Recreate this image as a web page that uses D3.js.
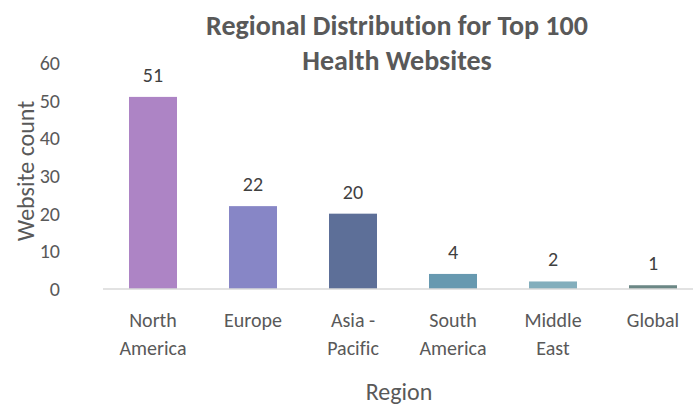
<!DOCTYPE html>
<html>
<head>
<meta charset="utf-8">
<script src="https://cdn.jsdelivr.net/npm/d3@7"></script>
<style>
    body { margin: 0; background: #fff; }
    svg text { font-family: Carlito, Lato, "Open Sans", sans-serif; font-variant-ligatures: none; }
</style>
</head>
<body>
<div id="chart"></div>
<script>
// data
var regions = [['North', 'America'], ['Europe'], ['Asia -', 'Pacific'], ['South', 'America'], ['Middle', 'East'], ['Global']],
    counts = [51, 22, 20, 4, 2, 1],
    barColors = ['#ad84c5', '#8786c6', '#5d6f98', '#6799b0', '#83aebc', '#6b8785'],
    yTicks = [0, 10, 20, 30, 40, 50, 60];

var width = 693,
    height = 406,
    plot = { left: 103, right: 703, top: 63, bottom: 289 };

var svg = d3.select('#chart').append('svg')
    .attr('width', width)
    .attr('height', height);

var x = d3.scaleBand()
    .domain(regions.map(function(d) { return d.join(' '); }))
    .range([plot.left, plot.right])
    .paddingInner(0.52)
    .paddingOuter(0.26);

var y = d3.scaleLinear()
    .domain([0, 60])
    .range([plot.bottom, plot.top]);

// title, two lines
svg.selectAll('text.title')
    .data(['Regional Distribution for Top 100', 'Health Websites'])
    .join('text')
    .attr('class', 'title')
    .attr('x', 397)
    .attr('y', function(d, i) { return 35 + i * 35; })
    .attr('text-anchor', 'middle')
    .style('font-size', '28px').style('font-weight', 'bold').style('fill', '#595959')
    .text(function(d) { return d; });

// y axis, no line just labels
var yAxis = svg.append('g')
    .attr('transform', 'translate(' + plot.left + ',0)')
    .call(d3.axisLeft(y).tickValues(yTicks).tickSize(0).tickPadding(43));
yAxis.select('.domain').remove();
yAxis.selectAll('text')
    .style('font-size', '20px').style('fill', '#595959')
    .style('font-family', 'Carlito, Lato, "Open Sans", sans-serif');

// bars
svg.selectAll('rect.bar')
    .data(counts)
    .join('rect')
    .attr('class', 'bar')
    .attr('x', function(d, i) { return x(regions[i].join(' ')); })
    .attr('y', function(d) { return y(d); })
    .attr('width', x.bandwidth())
    .attr('height', function(d) { return y(0) - y(d); })
    .style('fill', function(d, i) { return barColors[i]; });

// baseline
svg.append('line')
    .attr('x1', plot.left).attr('x2', plot.right)
    .attr('y1', y(0)).attr('y2', y(0))
    .style('stroke', '#d9d9d9')
    .style('stroke-width', '1.5px');

// value labels
svg.selectAll('text.value')
    .data(counts)
    .join('text')
    .attr('class', 'value')
    .attr('x', function(d, i) { return x(regions[i].join(' ')) + x.bandwidth() / 2; })
    .attr('y', function(d) { return y(d) - 15; })
    .attr('text-anchor', 'middle')
    .style('font-size', '20px').style('fill', '#404040')
    .text(function(d) { return d; });

// category labels
svg.selectAll('text.cat')
    .data(regions)
    .join('text')
    .attr('class', 'cat')
    .attr('text-anchor', 'middle')
    .style('font-size', '20px').style('fill', '#595959')
    .each(function(d) {
        var cx = x(d.join(' ')) + x.bandwidth() / 2;
        d3.select(this).selectAll('tspan')
            .data(d)
            .join('tspan')
            .attr('x', cx)
            .attr('y', function(t, i) { return 327 + i * 28; })
            .text(function(t) { return t; });
    });

// axis titles
svg.append('text')
    .attr('x', 399).attr('y', 400)
    .attr('text-anchor', 'middle')
    .style('font-size', '24px').style('fill', '#595959')
    .text('Region');

svg.append('text')
    .attr('transform', 'translate(34,171) rotate(-90)')
    .attr('text-anchor', 'middle')
    .style('font-size', '24px').style('fill', '#595959')
    .text('Website count');
</script>
</body>
</html>
